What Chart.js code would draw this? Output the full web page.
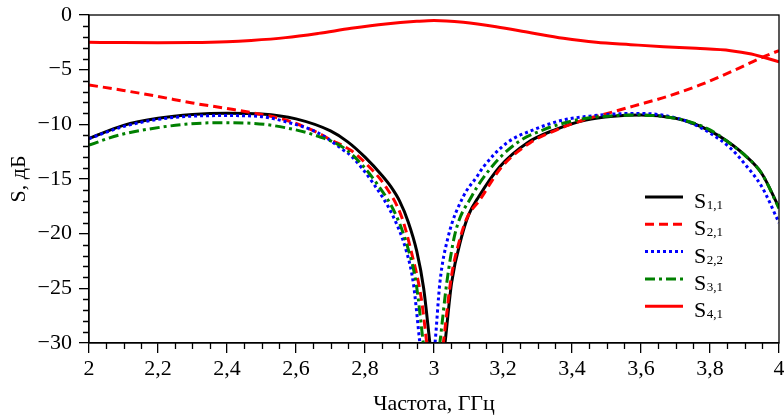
<!DOCTYPE html>
<html>
<head>
<meta charset="utf-8">
<script src="https://cdn.jsdelivr.net/npm/chart.js@4"></script>
<style>
html,body{margin:0;padding:0;background:#fff;}
#wrap{width:784px;height:417px;}
</style>
</head>
<body>
<div id="wrap"><canvas id="c" width="784" height="417"></canvas></div>
<script>
// ---- data (frequency in GHz, S-parameters in dB) ----
const s11F = [2.0,2.1,2.2,2.3,2.4,2.5,2.6,2.7,2.75,2.8,2.85,2.875,2.9,2.925,2.95,2.97,2.988,3.01,3.032,3.051,3.08,3.1,3.13,3.19,3.27,3.35,3.44,3.52,3.6,3.7,3.75,3.8,3.85,3.9,3.95,4.0];
const s11V = [-11.3,-10.1,-9.45,-9.1,-8.98,-9.05,-9.5,-10.6,-11.6,-13.0,-14.7,-15.7,-17.0,-18.9,-21.6,-25.0,-30,-36,-30,-24.5,-20.3,-18.3,-16.6,-13.9,-11.7,-10.5,-9.6,-9.25,-9.15,-9.45,-9.9,-10.6,-11.55,-12.8,-14.5,-17.6];

const s21F = [2.0,2.1,2.2,2.3,2.4,2.5,2.57,2.665,2.7,2.76,2.8,2.86,2.906,2.933,2.964,2.979,3.003,3.027,3.05,3.075,3.095,3.133,3.196,3.278,3.356,3.433,3.52,3.578,3.674,3.771,3.868,3.945,4.0];
const s21V = [-6.4,-6.9,-7.45,-8.05,-8.55,-9.1,-9.6,-10.8,-11.4,-12.4,-13.5,-15.7,-18.45,-21.5,-26.1,-30,-36,-30,-24,-20.5,-18.6,-16.9,-13.9,-11.7,-10.5,-9.6,-8.85,-8.33,-7.47,-6.4,-5.09,-3.96,-3.25];

const s22F = [2.0,2.1,2.2,2.3,2.4,2.5,2.57,2.665,2.737,2.76,2.824,2.882,2.919,2.94,2.959,2.981,3.003,3.017,3.041,3.085,3.124,3.143,3.211,3.288,3.375,3.45,3.52,3.6,3.7,3.75,3.8,3.86,3.9,3.95,4.0];
const s22V = [-11.3,-10.2,-9.55,-9.25,-9.2,-9.3,-9.76,-10.8,-12.35,-12.9,-15.4,-18.45,-21.5,-24.5,-30,-36,-30,-24.5,-20.3,-16.6,-14.8,-13.9,-11.7,-10.5,-9.6,-9.25,-9.06,-9.0,-9.4,-9.95,-10.8,-12.2,-13.6,-15.7,-19.0];

const s31F = [2.0,2.085,2.18,2.278,2.375,2.47,2.568,2.665,2.747,2.834,2.892,2.926,2.948,2.969,2.993,3.017,3.037,3.061,3.109,3.167,3.24,3.317,3.413,3.5,3.58,3.7,3.8,3.86,3.9,3.95,4.0];
const s31V = [-11.9,-11.0,-10.4,-10.0,-9.85,-9.9,-10.3,-11.1,-12.35,-15.4,-18.45,-21.5,-24.5,-30,-36,-30,-24.5,-20,-16.6,-13.9,-11.7,-10.5,-9.6,-9.25,-9.15,-9.45,-10.5,-11.8,-12.8,-14.5,-17.7];

const s41F = [2.0,2.1,2.2,2.3,2.4,2.47,2.57,2.665,2.76,2.86,2.95,3.0,3.085,3.18,3.28,3.375,3.47,3.57,3.665,3.76,3.86,3.92,3.955,4.0];
const s41V = [-2.5,-2.52,-2.53,-2.52,-2.45,-2.33,-2.07,-1.68,-1.22,-0.82,-0.58,-0.5,-0.67,-1.07,-1.62,-2.13,-2.5,-2.71,-2.9,-3.05,-3.26,-3.57,-3.87,-4.27];

const seriesSub = ['1,1','2,1','2,2','3,1','4,1'];
const xTickLabels = ['2','2,2','2,4','2,6','2,8','3','3,2','3,4','3,6','3,8','4'];
const yTickLabels = ['0','\u22125','\u221210','\u221215','\u221220','\u221225','\u221230'];
const xTitle = 'Частота, ГГц';
const yTitle = 'S, дБ';

const pts = (f, v) => f.map((x, i) => ({x: x, y: v[i]}));
const FONT = "'Liberation Serif', 'Times New Roman', serif";

const base = {fill:false, pointRadius:0, borderWidth:3, cubicInterpolationMode:'monotone', clip:0};
const datasets = [
  Object.assign({}, base, {label:'S1,1', data:pts(s11F,s11V), borderColor:'#000000', borderDash:[], order:5}),
  Object.assign({}, base, {label:'S2,1', data:pts(s21F,s21V), borderColor:'#ff0000', borderDash:[9,5], order:4}),
  Object.assign({}, base, {label:'S2,2', data:pts(s22F,s22V), borderColor:'#0000ff', borderDash:[3,3], order:3}),
  Object.assign({}, base, {label:'S3,1', data:pts(s31F,s31V), borderColor:'#008000', borderDash:[10,4,3,4], order:2}),
  Object.assign({}, base, {label:'S4,1', data:pts(s41F,s41V), borderColor:'#ff0000', borderDash:[], order:1})
];

const decor = {
  id:'decor',
  afterDraw(chart){
    const ctx = chart.ctx, a = chart.chartArea, xs = chart.scales.x, ys = chart.scales.y;
    ctx.save();
    ctx.strokeStyle = '#000'; ctx.lineWidth = 1.3; ctx.setLineDash([]);
    ctx.strokeRect(a.left, a.top, a.right - a.left, a.bottom - a.top);
    ctx.beginPath();
    for (let v = -30; v <= 0; v++) {
      if (v % 5 === 0) continue;
      const py = Math.round(ys.getPixelForValue(v)) + 0.5;
      ctx.moveTo(a.left, py); ctx.lineTo(a.left - 6, py);
    }
    for (let i = 0; i <= 40; i++) {
      if (i % 4 === 0) continue;
      const px = Math.round(xs.getPixelForValue(2 + i * 0.05)) + 0.5;
      ctx.moveTo(px, a.bottom); ctx.lineTo(px, a.bottom + 6);
    }
    ctx.stroke();
    // legend
    const x0 = a.right - 134, x1 = a.right - 96, tx = a.right - 85;
    chart.data.datasets.forEach((ds, i) => {
      const yc = a.top + 182 + i * 27.3;
      ctx.beginPath();
      ctx.strokeStyle = ds.borderColor; ctx.lineWidth = 3;
      ctx.setLineDash(ds.borderDash || []);
      ctx.moveTo(x0, yc); ctx.lineTo(x1, yc); ctx.stroke();
      ctx.setLineDash([]);
      ctx.fillStyle = '#000';
      ctx.textBaseline = 'alphabetic'; ctx.textAlign = 'left';
      ctx.font = '22px ' + FONT;
      const bl = yc + 11;
      ctx.fillText('S', tx, bl);
      const w = ctx.measureText('S').width;
      ctx.font = '13px ' + FONT;
      ctx.fillText(seriesSub[i], tx + w + 0.5, bl + 1);
    });
    ctx.restore();
  }
};

new Chart(document.getElementById('c'), {
  type:'line',
  data:{datasets:datasets},
  plugins:[decor],
  options:{
    responsive:false, animation:false, devicePixelRatio:1,
    layout:{padding:{left:0, right:5, top:15, bottom:0}},
    plugins:{legend:{display:false}, tooltip:{enabled:false}},
    scales:{
      x:{
        type:'linear', min:2, max:4,
        afterFit:(s)=>{ s.height = 74; s.paddingLeft = 0; s.paddingRight = 0; },
        ticks:{stepSize:0.2, maxRotation:0, autoSkip:false, padding:3, color:'#000',
          font:{family:FONT, size:22},
          callback:(v)=> xTickLabels[Math.round((v - 2) / 0.2)]},
        grid:{display:true, drawOnChartArea:false, drawTicks:true, tickLength:10, color:'#000', lineWidth:1.3},
        border:{display:true, color:'#000', width:1.3},
        title:{display:true, text:xTitle, color:'#000', font:{family:FONT, size:22}, padding:{top:6, bottom:0}}
      },
      y:{
        type:'linear', min:-30, max:0,
        afterFit:(s)=>{ s.width = 89; s.paddingTop = 0; s.paddingBottom = 0; },
        ticks:{stepSize:5, padding:7, color:'#000', font:{family:FONT, size:22},
          callback:(v)=> yTickLabels[Math.round(-v / 5)]},
        grid:{display:true, drawOnChartArea:false, drawTicks:true, tickLength:10, color:'#000', lineWidth:1.3},
        border:{display:true, color:'#000', width:1.3},
        title:{display:true, text:yTitle, color:'#000', font:{family:FONT, size:22}, padding:{top:6, bottom:0}}
      }
    }
  }
});
</script>
</body>
</html>
